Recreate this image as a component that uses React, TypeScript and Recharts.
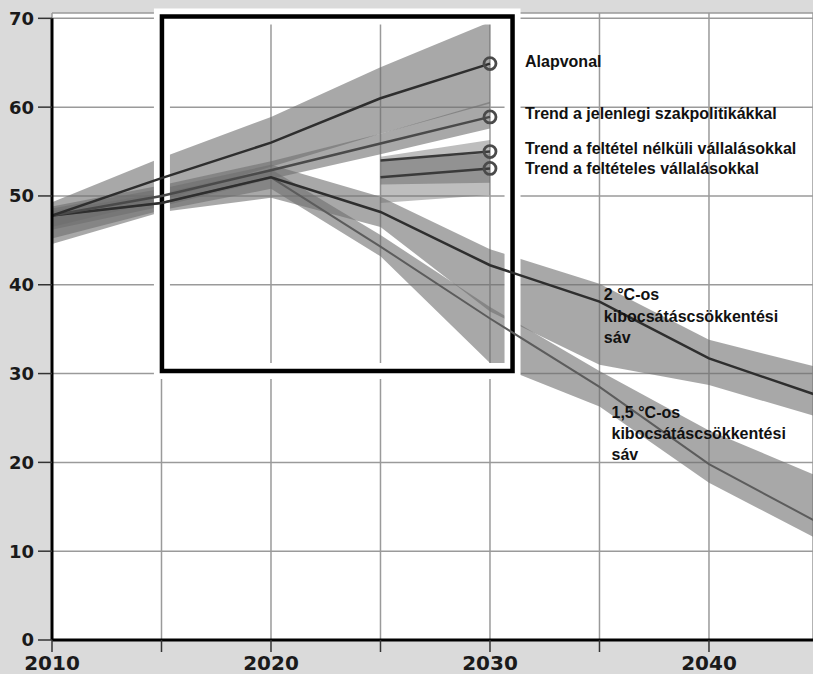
import React from 'react';
import {
  ComposedChart,
  Area,
  Line,
  XAxis,
  YAxis,
  CartesianGrid,
  ReferenceArea,
  ReferenceDot,
  ReferenceLine,
} from 'recharts';

// ---- data ----
const years = [2010, 2015, 2020, 2025, 2030, 2035, 2040, 2045];

const baselineMid = [47.8, 52.0, 56.0, 61.0, 64.9, null, null, null];
const baselineLow = [46.5, 49.5, 53.3, 57.0, 60.4, null, null, null];
const baselineHigh = [49.3, 54.3, 58.9, 64.5, 69.6, null, null, null];

const currentMid = [47.8, 50.0, 52.9, 55.9, 58.9, null, null, null];
const currentLow = [46.2, 48.8, 51.9, 54.7, 57.6, null, null, null];
const currentHigh = [48.8, 51.2, 53.9, 57.0, 60.6, null, null, null];

const uncondMid = [null, null, null, 54.0, 55.0, null, null, null];
const uncondLow = [null, null, null, 49.2, 50.1, null, null, null];
const uncondHigh = [null, null, null, 54.4, 56.3, null, null, null];

const condMid = [null, null, null, 52.1, 53.1, null, null, null];
const condLow = [null, null, null, 51.3, 51.5, null, null, null];
const condHigh = [null, null, null, 54.0, 54.8, null, null, null];

const twoMid = [47.8, 49.2, 52.1, 48.2, 42.2, 38.1, 31.7, 27.5];
const twoLow = [44.6, 48.2, 49.8, 46.5, 37.0, 31.0, 28.7, 25.1];
const twoHigh = [48.6, 50.8, 53.5, 49.9, 44.0, 40.1, 33.8, 30.7];

const oneMid = [47.8, 49.2, 52.1, 44.3, 36.2, 28.5, 19.8, 13.2];
const oneLow = [45.2, 48.4, 50.8, 43.2, 31.2, 26.3, 17.7, 11.3];
const oneHigh = [48.3, 50.3, 53.0, 45.6, 37.5, 30.3, 23.6, 18.4];

const xTicks = [2010, 2015, 2020, 2025, 2030, 2035, 2040];
const yTicks = [0, 10, 20, 30, 40, 50, 60, 70];

const trendLabels = [
  'Alapvonal',
  'Trend a jelenlegi szakpolitikákkal',
  'Trend a feltétel nélküli vállalásokkal',
  'Trend a feltételes vállalásokkal',
];
const twoLabel = ['2 °C-os', 'kibocsátáscsökkentési', 'sáv'];
const oneLabel = ['1,5 °C-os', 'kibocsátáscsökkentési', 'sáv'];

// ---- annotation anchors (in data units) ----
const trendLabelAnchors = [
  { x: 2031.6, y: 65.2 },
  { x: 2031.6, y: 59.3 },
  { x: 2031.6, y: 55.3 },
  { x: 2031.6, y: 53.1 },
];
const twoLabelAnchor = { x: 2035.2, y: 38.9 };
const oneLabelAnchor = { x: 2035.55, y: 25.6 };
const box = { x1: 2015.02, x2: 2031.03, y1: 30.3, y2: 70.2 };

const range = (lo: (number | null)[], hi: (number | null)[], i: number) =>
  lo[i] == null || hi[i] == null ? null : [lo[i], hi[i]];

const data = years.map((year, i) => ({
  year,
  baseline: baselineMid[i],
  baselineBand: range(baselineLow, baselineHigh, i),
  current: currentMid[i],
  currentBand: range(currentLow, currentHigh, i),
  uncond: uncondMid[i],
  uncondBand: range(uncondLow, uncondHigh, i),
  cond: condMid[i],
  condBand: range(condLow, condHigh, i),
  two: twoMid[i],
  twoBand: range(twoLow, twoHigh, i),
  one: oneMid[i],
  oneBand: range(oneLow, oneHigh, i),
}));

const BAND = '#6e6e6e';
const LABEL_FONT = '"Liberation Sans", Arial, sans-serif';
const AXIS_FONT = '"DejaVu Sans", sans-serif';

const endCircle = (props: any) => {
  const { cx, cy, payload, key } = props;
  if (payload && payload.year === 2030 && cx != null && cy != null) {
    return (
      <circle key={key} cx={cx} cy={cy} r={6} fill="none" stroke="#4a4a4a" strokeWidth={2.8} />
    );
  }
  return <g key={key} />;
};

const XTick = (props: any) => {
  const { x, y, payload } = props;
  if (payload.value % 10 !== 0) return <g />;
  return (
    <text
      x={x}
      y={y}
      dy="0.74em"
      textAnchor="middle"
      fontFamily={AXIS_FONT}
      fontWeight="bold"
      fontSize={20}
      fill="#1a1a1a"
    >
      {payload.value}
    </text>
  );
};

const YTick = (props: any) => {
  const { x, y, payload } = props;
  return (
    <text
      x={x - 2}
      y={y}
      dy="0.36em"
      textAnchor="end"
      fontFamily={AXIS_FONT}
      fontWeight="bold"
      fontSize={18}
      fill="#1a1a1a"
    >
      {payload.value}
    </text>
  );
};

const labelShape = (lines: string[], lineHeight: number) => (props: any) => {
  const { cx, cy } = props;
  return (
    <text
      x={cx}
      y={cy}
      fontFamily={LABEL_FONT}
      fontWeight="bold"
      fontSize={16}
      fill="#111"
    >
      {lines.map((t, i) => (
        <tspan key={i} x={cx} dy={i === 0 ? '0.35em' : lineHeight}>
          {t}
        </tspan>
      ))}
    </text>
  );
};

export default function App() {
  return (
    <div
      style={{
        position: 'absolute',
        left: 0,
        top: 0,
        width: 813,
        height: 674,
        background: '#dadada',
      }}
    >
      <ComposedChart
        width={813}
        height={674}
        data={data}
        margin={{ top: 13, right: 0, bottom: 0, left: 0 }}
      >
        <CartesianGrid fill="#ffffff" stroke="#9a9a9a" strokeWidth={1.5} />
        <XAxis
          dataKey="year"
          type="number"
          domain={[2010, 2044.75]}
          allowDataOverflow
          ticks={xTicks}
          tick={<XTick />}
          tickSize={12}
          tickMargin={3}
          height={34}
          axisLine={{ stroke: '#000', strokeWidth: 3 }}
          tickLine={{ stroke: '#333', strokeWidth: 1.5 }}
          interval={0}
        />
        <YAxis
          type="number"
          domain={[0, 70.6]}
          allowDataOverflow
          ticks={yTicks}
          tick={<YTick />}
          tickSize={14}
          width={52}
          axisLine={false}
          tickLine={{ stroke: '#333', strokeWidth: 1.5 }}
          interval={0}
        />

        <Area dataKey="baselineBand" type="linear" fill={BAND} fillOpacity={0.6} stroke="none" isAnimationActive={false} />
        <Area dataKey="currentBand" type="linear" fill={BAND} fillOpacity={0.6} stroke="none" isAnimationActive={false} />
        <Area dataKey="uncondBand" type="linear" fill={BAND} fillOpacity={0.45} stroke="none" isAnimationActive={false} />
        <Area dataKey="condBand" type="linear" fill={BAND} fillOpacity={0.55} stroke="none" isAnimationActive={false} />
        <Area dataKey="twoBand" type="linear" fill={BAND} fillOpacity={0.6} stroke="none" isAnimationActive={false} />
        <Area dataKey="oneBand" type="linear" fill={BAND} fillOpacity={0.6} stroke="none" isAnimationActive={false} />

        <Line dataKey="one" type="linear" stroke="#5c5c5c" strokeWidth={2} dot={false} isAnimationActive={false} />
        <Line dataKey="two" type="linear" stroke="#2e2e2e" strokeWidth={2.5} dot={false} isAnimationActive={false} />
        <Line dataKey="current" type="linear" stroke="#4a4a4a" strokeWidth={2.5} dot={endCircle} isAnimationActive={false} />
        <Line dataKey="baseline" type="linear" stroke="#2e2e2e" strokeWidth={2.5} dot={endCircle} isAnimationActive={false} />
        <Line dataKey="uncond" type="linear" stroke="#3a3a3a" strokeWidth={2.5} dot={endCircle} isAnimationActive={false} />
        <Line dataKey="cond" type="linear" stroke="#3a3a3a" strokeWidth={2.5} dot={endCircle} isAnimationActive={false} />

        <ReferenceLine
          segment={[{ x: 2010, y: 0 }, { x: 2010, y: 70 }]}
          stroke="#000"
          strokeWidth={3}
          ifOverflow="visible"
        />

        <ReferenceArea
          x1={box.x1}
          x2={box.x2}
          y1={box.y1}
          y2={box.y2}
          fill="none"
          fillOpacity={0}
          stroke="#ffffff"
          strokeWidth={16}
          ifOverflow="visible"
        />
        <ReferenceArea
          x1={box.x1}
          x2={box.x2}
          y1={box.y1}
          y2={box.y2}
          fill="none"
          fillOpacity={0}
          stroke="#000000"
          strokeWidth={4.5}
          ifOverflow="visible"
        />

        {trendLabels.map((t, i) => (
          <ReferenceDot
            key={t}
            x={trendLabelAnchors[i].x}
            y={trendLabelAnchors[i].y}
            r={0}
            ifOverflow="visible"
            shape={labelShape([t], 21)}
          />
        ))}
        <ReferenceDot
          x={twoLabelAnchor.x}
          y={twoLabelAnchor.y}
          r={0}
          ifOverflow="visible"
          shape={labelShape(twoLabel, 21.5)}
        />
        <ReferenceDot
          x={oneLabelAnchor.x}
          y={oneLabelAnchor.y}
          r={0}
          ifOverflow="visible"
          shape={labelShape(oneLabel, 21)}
        />
      </ComposedChart>
    </div>
  );
}
